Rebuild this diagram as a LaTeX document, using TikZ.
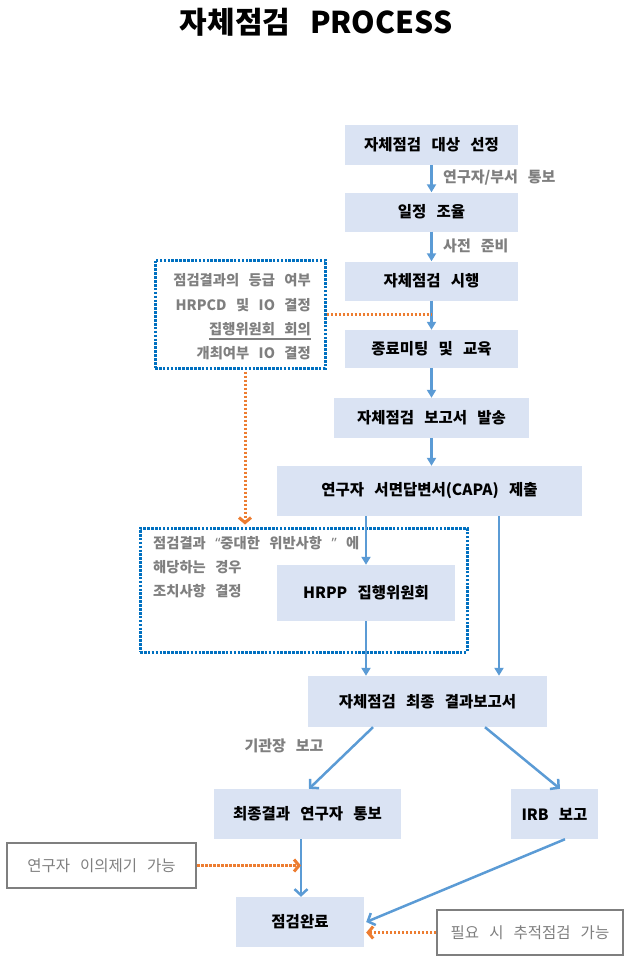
\documentclass[tikz,border=0pt]{standalone}
\usepackage{fontspec}
\setmainfont{Noto Sans CJK KR}[WordSpace=2.9]
\newfontfamily\latinq{Noto Sans}
\usetikzlibrary{arrows.meta,calc}
\definecolor{boxfill}{HTML}{DAE3F3}
\definecolor{arrblue}{HTML}{5B9BD5}
\definecolor{dotblue}{HTML}{0070C0}
\definecolor{orng}{HTML}{ED7D31}
\definecolor{gtext}{HTML}{7F7F7F}
\tikzset{
  proc/.style={fill=boxfill, inner sep=0pt, font=\bfseries\fontsize{15.5}{17}\selectfont, text=black},
  graybox/.style={draw=gtext, line width=2pt, fill=white, inner sep=0pt, font=\fontsize{15.5}{17}\selectfont, text=gtext},
  dotframe/.style={draw=dotblue, line width=3pt, dash pattern=on 2.6pt off 1.3pt, inner sep=0pt},
  note/.style={inner sep=0pt, font=\bfseries\fontsize{14.3}{16}\selectfont, text=gtext},
  lbl/.style={inner sep=0pt, font=\bfseries\fontsize{15}{17}\selectfont, text=gtext},
  flow/.style={draw=arrblue, line width=2.5pt, -{Triangle[length=8pt,width=9pt]}},
  flowv/.style={draw=arrblue, line width=2.5pt, -{Straight Barb[length=6pt,width=13pt]}},
  oline/.style={draw=orng, line width=3pt, dash pattern=on 2.5pt off 1.5pt},
  oarrow/.style={oline, -{Straight Barb[length=5pt,width=12pt]}},
}
\begin{document}
\begin{tikzpicture}[x=1pt,y=-1pt]
\useasboundingbox (0,0) rectangle (628,962);
% title
\node[inner sep=0pt, font=\bfseries\fontsize{30}{34}\selectfont] (title) at (316,22) {자체점검 PROCESS};
% process boxes
\node[proc, minimum width=173pt, minimum height=40pt] (b1) at (431.5,145) {자체점검 대상 선정};
\node[proc, minimum width=173pt, minimum height=39pt] (b2) at (431.5,212) {일정 조율};
\node[proc, minimum width=173pt, minimum height=39pt] (b3) at (431.5,281) {자체점검 시행};
\node[proc, minimum width=173pt, minimum height=38pt] (b4) at (431.5,349) {종료미팅 및 교육};
\node[proc, minimum width=195pt, minimum height=40pt] (b5) at (431.5,418) {자체점검 보고서 발송};
\node[proc, minimum width=305pt, minimum height=50pt] (b6) at (429.5,491) {연구자 서면답변서(CAPA) 제출};
\node[proc, minimum width=178pt, minimum height=56pt] (b7) at (366,593) {HRPP 집행위원회};
\node[proc, minimum width=239pt, minimum height=51pt] (b8) at (427.5,701.5) {자체점검 최종 결과보고서};
\node[proc, minimum width=187pt, minimum height=50pt] (b9) at (307.5,814) {최종결과 연구자 통보};
\node[proc, minimum width=87pt, minimum height=50pt] (b10) at (554.5,814) {IRB 보고};
\node[proc, minimum width=128pt, minimum height=50pt] (b11) at (300,922) {점검완료};
\node[graybox, minimum width=189pt, minimum height=45pt] (g1) at (101.5,865.5) {연구자 이의제기 가능};
\node[graybox, minimum width=186pt, minimum height=45pt] (g2) at (530,932.5) {필요 시 추적점검 가능};
% dotted frames
\node[dotframe, minimum width=170pt, minimum height=108pt] (d1) at (240,314) {};
\node[dotframe, minimum width=327pt, minimum height=124pt] (d2) at (303.5,590) {};
% notes in frame 1
\node[note, anchor=east] (n1) at (311,280) {점검결과의 등급 여부};
\node[note, anchor=east] (n2) at (311,305) {HRPCD 및 IO 결정};
\node[note, anchor=east] (n3) at (311,329) {집행위원회 회의};
\node[note, anchor=east] (n4) at (311,353) {개최여부 IO 결정};
\draw[gtext, line width=1.2pt] ($(n3.south west)+(0,3)$) -- ($(n3.south east)+(0,3)$);
% notes in frame 2
\node[note, anchor=west] (m1) at (153,543) {점검결과 {\latinq “}중대한 위반사항 {\latinq ”} 에};
\node[note, anchor=west] (m2) at (153,567) {해당하는 경우};
\node[note, anchor=west] (m3) at (153,591) {조치사항 결정};
% edge labels
\node[lbl, anchor=west] (l1) at (443,178) {연구자/부서 통보};
\node[lbl, anchor=west] (l2) at (443,246) {사전 준비};
\node[lbl] (l3) at (284,746) {기관장 보고};
% main flow
\draw[flow] (b1) -- (b2);
\draw[flow] (b2) -- (b3);
\draw[flow] (b3) -- (b4);
\draw[flow] (b4) -- (b5);
\draw[flow] (b5.south -| b4.south) -- (b6.north -| b4.south);
\draw[flow] (b6.south -| b7.north) -- (b7.north);
\draw[flow] (b6.south -| 499,0) -- (b8.north -| 499,0);
\draw[flow] (b7.south) -- (b8.north -| b7.south);
\draw[flowv] (b8.south -| 373,0) -- (b9.north -| 309,0);
\draw[flowv] (b8.south -| 485,0) -- (b10.north -| 560,0);
\draw[flowv] (b9.south -| 301,0) -- (b11.north -| 301,0);
\draw[flowv] (b10.south -| 565,0) -- ($(b11.east)+(2,0)$);
% orange connectors
\draw[oline] (d1.east) -- (d1.east -| b3.south);
\draw[oarrow] ($(d1.south)+(5,2)$) -- ($(d2.north)+(-58.5,-2)$);
\draw[oarrow] (g1.east) -- (g1.east -| 301,0);
\draw[oarrow] (g2.west) -- ($(b11.east)+(2,10.5)$);
\end{tikzpicture}
\end{document}
